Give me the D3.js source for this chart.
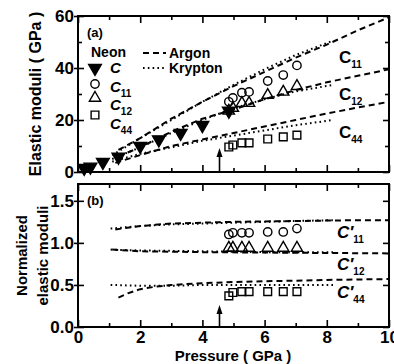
<!DOCTYPE html>
<html>
<head>
<meta charset="utf-8">
<script src="https://cdn.jsdelivr.net/npm/d3@7"></script>
<style>
  body { margin: 0; background: #fff; }
  svg { font-family: "Liberation Sans", Arial, sans-serif; font-weight: bold; }
  .tick text { font-size: 17px; font-weight: bold; fill: #000; }
  .domain { display: none; }
  .tick line { stroke: #000; stroke-width: 1.6; }
  .frame { fill: none; stroke: #000; stroke-width: 2; }
  .dash { fill: none; stroke: #000; stroke-width: 2; stroke-dasharray: 6,4; }
  .dot { fill: none; stroke: #000; stroke-width: 2; stroke-dasharray: 1.6,3.2; }
</style>
</head>
<body>
<div id="chart"></div>
<script>
// Elastic moduli of neon vs pressure, with argon / krypton curves for comparison.
const width = 394;
const height = 364;

// measured points (pressure in GPa)
const neonCP = [0.2, 0.4, 0.8, 1.3, 2.0, 2.6, 3.3, 4.0, 4.85];
const neonCVal = [1.5, 2, 3.8, 5.8, 10, 12.5, 15, 18, 23.5];
const neonP = [4.85, 4.98, 5.27, 5.5, 6.1, 6.6, 7.04];
const c11Val = [27, 28.5, 30.5, 30.8, 35, 37.3, 41];
const c12Val = [23.5, 24.6, 26.5, 26.5, 29.6, 30.8, 33];
const c44Val = [9.6, 10.4, 11.2, 11.2, 12.7, 13.5, 14.2];
const c11Norm = [1.1, 1.12, 1.12, 1.12, 1.13, 1.13, 1.17];
const c12Norm = [0.94, 0.94, 0.94, 0.94, 0.94, 0.94, 0.94];
const c44Norm = [0.37, 0.41, 0.42, 0.42, 0.42, 0.42, 0.42];

// argon (dashed) and krypton (dotted) curves, [pressure, value]
const argonC11 = [[1.3, 8.5], [2, 13], [3, 20.5], [4, 27], [5, 33], [6, 38.5], [7, 44], [8, 49], [9, 54.5], [10, 59.5]];
const argonC12 = [[1.3, 6], [2, 9.5], [3, 15.5], [4, 20.5], [5, 24], [6, 28], [7, 31.5], [8, 34.5], [9, 37], [10, 39.5]];
const argonC44 = [[1.2, 3.5], [2, 6.5], [3, 10], [4, 12.5], [5, 15], [6, 17.5], [7, 20], [8, 22.5], [9, 24.8], [10, 27]];
const kryptonC11 = [[1.1, 6.5], [2, 13], [3, 20], [4, 27], [5, 33.5], [6, 39.5], [7, 45], [8.2, 50.5]];
const kryptonC12 = [[1.1, 5], [2, 9.5], [3, 15], [4, 20], [5, 24.5], [6, 28], [7, 31], [8.2, 33.5]];
const kryptonC44 = [[1.1, 4], [2, 7], [3, 9.5], [4, 12], [5, 14], [6, 16], [7, 18], [8.2, 20]];
const argonN11 = [[1.2, 1.16], [2, 1.2], [3, 1.23], [4, 1.24], [5, 1.25], [6, 1.255], [7, 1.26], [8, 1.265], [9, 1.27], [10, 1.27]];
const argonN12 = [[1.1, 0.92], [2, 0.9], [4, 0.89], [6, 0.885], [8, 0.88], [10, 0.875]];
const argonN44 = [[1.3, 0.35], [1.6, 0.4], [2, 0.45], [2.5, 0.48], [3, 0.5], [4, 0.52], [5, 0.535], [6, 0.545], [7, 0.55], [8, 0.56], [9, 0.565], [10, 0.57]];
const kryptonN11 = [[1.05, 1.17], [2, 1.2], [3, 1.22], [4, 1.23], [5, 1.24], [6, 1.25], [7, 1.26], [8.2, 1.27]];
const kryptonN12 = [[1.05, 0.92], [2, 0.91], [4, 0.9], [6, 0.89], [8.2, 0.89]];
const kryptonN44 = [[1.05, 0.5], [2, 0.49], [3, 0.49], [4, 0.5], [5, 0.5], [6, 0.5], [7, 0.5], [8.2, 0.5]];

const transitionP = 4.55;
const xTicks = [0, 2, 4, 6, 8, 10];
const topTicks = [0, 20, 40, 60];
const botTicks = [0, 0.5, 1.0, 1.5];

const svg = d3.select("#chart").append("svg")
  .attr("width", width).attr("height", height);

const x = d3.scaleLinear().domain([0, 10]).range([78, 389]);
const yTop = d3.scaleLinear().domain([0, 60]).range([172, 16]);
const yBot = d3.scaleLinear().domain([0, 1.7]).range([327, 184]);

const xMinor = d3.range(1, 10, 2);

function frame(y, majors, minors, fmt, showX) {
  const [y0, y1] = y.range();
  const g = svg.append("g");
  // bottom ticks (inward)
  g.append("g").attr("transform", `translate(0,${y0})`)
    .call(d3.axisBottom(x).tickValues(xTicks).tickSize(-7).tickPadding(4)
      .tickFormat(showX ? d3.format("d") : ""));
  g.append("g").attr("transform", `translate(0,${y0})`)
    .call(d3.axisBottom(x).tickValues(xMinor).tickSize(-4).tickFormat(""));
  // top ticks (inward)
  g.append("g").attr("transform", `translate(0,${y1})`)
    .call(d3.axisTop(x).tickValues(xTicks).tickSize(-7).tickFormat(""));
  g.append("g").attr("transform", `translate(0,${y1})`)
    .call(d3.axisTop(x).tickValues(xMinor).tickSize(-4).tickFormat(""));
  // left ticks: crossing the axis
  g.append("g").attr("transform", `translate(${x(0)},0)`)
    .call(d3.axisLeft(y).tickValues(majors).tickSize(4).tickPadding(0).tickFormat(fmt));
  g.append("g").attr("transform", `translate(${x(0)},0)`)
    .call(d3.axisLeft(y).tickValues(majors).tickSize(-6).tickFormat(""));
  if (minors.length) {
    g.append("g").attr("transform", `translate(${x(0)},0)`)
      .call(d3.axisLeft(y).tickValues(minors).tickSize(-4).tickFormat(""));
  }
  // right ticks (inward)
  g.append("g").attr("transform", `translate(${x(10)},0)`)
    .call(d3.axisRight(y).tickValues(majors).tickSize(-6).tickFormat(""));
  if (minors.length) {
    g.append("g").attr("transform", `translate(${x(10)},0)`)
      .call(d3.axisRight(y).tickValues(minors).tickSize(-4).tickFormat(""));
  }
  g.append("rect").attr("class", "frame")
    .attr("x", x(0)).attr("y", y1)
    .attr("width", x(10) - x(0)).attr("height", y0 - y1);
}

frame(yTop, topTicks, [10, 30, 50], d3.format("d"), false);
frame(yBot, botTicks, [], d3.format(".1f"), true);

function curve(y, data, cls) {
  svg.append("path").datum(data).attr("class", cls)
    .attr("d", d3.line().x(d => x(d[0])).y(d => y(d[1])));
}

[argonC11, argonC12, argonC44].forEach(d => curve(yTop, d, "dash"));
[kryptonC11, kryptonC12, kryptonC44].forEach(d => curve(yTop, d, "dot"));
[argonN11, argonN12, argonN44].forEach(d => curve(yBot, d, "dash"));
[kryptonN11, kryptonN12, kryptonN44].forEach(d => curve(yBot, d, "dot"));

const sym = {
  circle: d3.symbol().type(d3.symbolCircle).size(55),
  tri: d3.symbol().type(d3.symbolTriangle).size(55),
  square: d3.symbol().type(d3.symbolSquare).size(60),
  down: d3.symbol().type(d3.symbolTriangle).size(70)
};

function points(y, ps, vals, shape, filled, rot) {
  svg.append("g").selectAll("path")
    .data(ps.map((p, i) => [p, vals[i]]))
    .join("path")
    .attr("d", sym[shape])
    .attr("transform", d => `translate(${x(d[0])},${y(d[1])})` + (rot ? " rotate(180)" : ""))
    .attr("fill", filled ? "#000" : "#fff")
    .attr("fill-opacity", filled ? 1 : 0)
    .attr("stroke", "#000")
    .attr("stroke-width", 1.4);
}

points(yTop, neonP, c44Val, "square", false);
points(yTop, neonP, c12Val, "tri", false);
points(yTop, neonP, c11Val, "circle", false);
points(yTop, neonCP, neonCVal, "down", true, true);
points(yBot, neonP, c44Norm, "square", false);
points(yBot, neonP, c12Norm, "tri", false);
points(yBot, neonP, c11Norm, "circle", false);

// arrows marking the transition pressure
function arrow(y, top) {
  const xa = x(transitionP);
  const y0 = y.range()[0];
  svg.append("line").attr("x1", xa).attr("x2", xa)
    .attr("y1", y0).attr("y2", top + 5)
    .attr("stroke", "#000").attr("stroke-width", 1.6);
  svg.append("path")
    .attr("d", `M${xa},${top} L${xa - 3},${top + 9} L${xa + 3},${top + 9} Z`)
    .attr("fill", "#000");
}
arrow(yTop, 148);
arrow(yBot, 305);

// labels
function cLabel(xp, yp, sub, prime, size, italic) {
  const t = svg.append("text").attr("x", xp).attr("y", yp)
    .attr("font-size", size).attr("font-style", italic ? "italic" : "normal");
  t.append("tspan").text(prime ? "C\u2032" : "C");
  if (sub) {
    t.append("tspan").attr("font-size", 10).attr("font-style", "normal")
      .attr("dy", 5).text(sub);
  }
}

svg.append("text").attr("x", 87).attr("y", 37).attr("font-size", 13).text("(a)");
svg.append("text").attr("x", 87).attr("y", 205).attr("font-size", 13).text("(b)");
svg.append("text").attr("x", 91).attr("y", 57).attr("font-size", 14).text("Neon");

// neon legend
const legendSym = [["down", 68, true], ["circle", 84, false], ["tri", 98, false], ["square", 115, false]];
legendSym.forEach(([s, yy, f]) => {
  svg.append("path").attr("d", sym[s])
    .attr("transform", `translate(95,${yy})` + (s === "down" ? " rotate(180)" : ""))
    .attr("fill", f ? "#000" : "none").attr("stroke", "#000").attr("stroke-width", 1.4);
});
cLabel(110, 73, "", false, 15, true);
cLabel(110, 92, "11", false, 15, true);
cLabel(110, 110, "12", false, 15, true);
cLabel(110, 129, "44", false, 15, true);

// argon / krypton legend
svg.append("line").attr("class", "dash").attr("x1", 143).attr("x2", 166).attr("y1", 53).attr("y2", 53);
svg.append("line").attr("class", "dot").attr("x1", 143).attr("x2", 166).attr("y1", 68).attr("y2", 68);
svg.append("text").attr("x", 169).attr("y", 58).attr("font-size", 14).text("Argon");
svg.append("text").attr("x", 169).attr("y", 73).attr("font-size", 14).text("Krypton");

cLabel(339, 63, "11", false, 17, false);
cLabel(339, 100, "12", false, 17, false);
cLabel(339, 138, "44", false, 17, false);
cLabel(337, 238, "11", true, 17, true);
cLabel(337, 270, "12", true, 17, true);
cLabel(337, 298, "44", true, 17, true);

// axis titles
svg.append("text").attr("transform", `translate(41,${(yTop(0) + yTop(60)) / 2}) rotate(-90)`)
  .attr("text-anchor", "middle").attr("font-size", 16).text("Elastic moduli ( GPa )");
svg.append("text").attr("transform", `translate(27,${(yBot(0) + yBot(1.7)) / 2}) rotate(-90)`)
  .attr("text-anchor", "middle").attr("font-size", 15).text("Normalized");
svg.append("text").attr("transform", `translate(48,${(yBot(0) + yBot(1.7)) / 2}) rotate(-90)`)
  .attr("text-anchor", "middle").attr("font-size", 15).text("elastic moduli");
svg.append("text").attr("x", 233).attr("y", 361)
  .attr("text-anchor", "middle").attr("font-size", 15).text("Pressure ( GPa )");
</script>
</body>
</html>
